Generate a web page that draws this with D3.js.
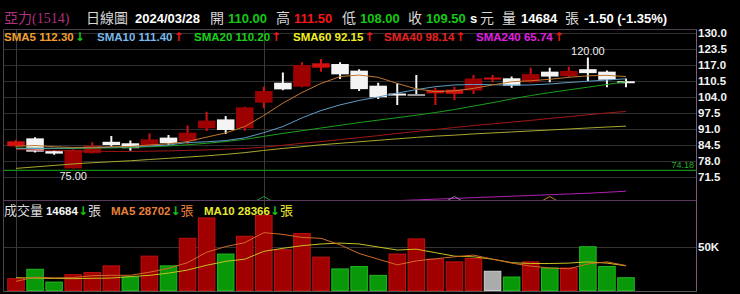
<!DOCTYPE html>
<html>
<head>
<meta charset="utf-8">
<script src="https://cdn.jsdelivr.net/npm/d3@7"></script>
<style>
  body { margin: 0; background: #000; }
  svg { display: block; }
  text { font-family: "Liberation Sans", Arial, "Noto Sans CJK TC", sans-serif; }
  .cjk { font-family: "Noto Sans CJK TC", sans-serif; }
  .arrow { font-family: "DejaVu Sans", sans-serif; font-weight: bold; font-size: 12px; }
</style>
</head>
<body>
<svg width="740" height="294"></svg>
<script>
// ---- data ----
var stockName = "亞力";
var stockCode = "1514";
var lastDate = "2024/03/28";
var prevClose = 84.0; // close before the first bar (only used for the first volume colour)

var open  = [84.0, 87.2, 82.0, 75.0, 81.2, 85.8, 85.2, 84.1, 87.5, 86.1, 91.3, 94.9, 91.3, 101.7, 109.8, 108.2, 115.9,
             117.4, 114.7, 108.6, 105.0, 104.8, 105.5, 105.3, 106.6, 110.7, 111.6, 110.0, 114.3, 112.5, 115.3, 114.3, 110.0];
var high  = [86.5, 87.6, 82.5, 82.8, 85.6, 88.2, 86.3, 89.2, 88.6, 92.4, 98.0, 96.3, 100.0, 108.2, 114.0, 118.1, 119.4,
             118.1, 115.3, 109.8, 109.6, 112.9, 107.8, 108.2, 112.9, 112.9, 112.3, 115.9, 115.9, 116.3, 120.0, 114.8, 111.5];
var low   = [83.5, 81.5, 80.5, 75.0, 81.0, 83.8, 82.2, 83.8, 84.5, 84.8, 90.2, 89.0, 90.3, 99.4, 106.7, 108.0, 114.3,
             111.3, 106.4, 103.2, 100.8, 104.8, 100.8, 102.8, 105.2, 110.0, 107.8, 109.8, 110.0, 112.0, 110.5, 108.0, 108.0];
var close = [86.0, 81.8, 81.0, 82.5, 84.2, 84.5, 83.2, 86.8, 85.2, 89.5, 94.4, 90.6, 99.8, 106.4, 107.1, 117.0, 117.7,
             113.2, 107.2, 103.9, 104.6, 104.8, 106.8, 107.0, 111.5, 111.5, 108.6, 113.3, 112.3, 114.6, 113.7, 111.0, 109.5];
var volume = [13600, 24400, 9700, 18200, 20600, 28300, 15500, 39500, 28300, 60000, 83400, 41900, 62400, 86400, 46900, 65500, 38400,
              24800, 27500, 17400, 41900, 59300, 36000, 32900, 36800, 22100, 15500, 32900, 25900, 25900, 50300, 27500, 14684];

var sma5   = [84.0, 84.3, 83.8, 83.5, 83.6, 83.8, 83.9, 84.5, 85.0, 85.9, 87.7, 89.4, 92.0, 96.5, 101.5, 105.8, 109.5,
              112.3, 112.9, 112.0, 109.5, 107.3, 106.2, 106.5, 107.5, 108.9, 110.2, 110.6, 111.2, 112.0, 112.6, 112.8, 112.30];
var sma10  = [83.0, 83.1, 83.2, 83.3, 83.4, 83.6, 83.8, 84.1, 84.5, 85.5, 85.8, 86.3, 87.4, 89.5, 92.0, 95.5, 98.5,
              100.8, 102.6, 104.0, 105.6, 107.0, 108.2, 108.9, 109.1, 109.0, 108.8, 108.9, 109.3, 109.9, 110.4, 110.9, 111.40];
var sma20  = [83.3, 83.2, 83.1, 83.1, 83.2, 83.3, 83.5, 83.8, 84.1, 84.6, 85.2, 85.9, 86.8, 88.0, 89.2, 90.3, 91.4,
              92.5, 93.6, 94.6, 95.6, 96.6, 97.7, 98.9, 100.3, 101.7, 103.2, 104.6, 105.8, 106.9, 108.0, 109.1, 110.20];
var sma60  = [75.0, 75.6, 76.2, 76.8, 77.3, 77.7, 78.1, 78.6, 79.1, 79.6, 80.1, 80.7, 81.4, 82.3, 83.1, 83.8, 84.6,
              85.2, 85.8, 86.4, 87.0, 87.6, 88.1, 88.5, 89.0, 89.4, 89.8, 90.2, 90.6, 91.0, 91.4, 91.8, 92.15];
var sma40  = [82.7, 82.5, 82.3, 82.1, 82.0, 81.9, 81.9, 82.0, 82.1, 82.3, 82.5, 82.8, 83.1, 83.6, 84.4, 85.2, 85.9,
              86.7, 87.5, 88.3, 89.2, 90.0, 90.8, 91.6, 92.4, 93.1, 93.8, 94.5, 95.3, 96.0, 96.8, 97.5, 98.14];
var sma240 = [55.9, 56.2, 56.5, 56.8, 57.1, 57.4, 57.7, 58.0, 58.3, 58.6, 58.9, 59.2, 59.5, 59.8, 60.1, 60.4, 60.7,
              61.0, 61.3, 61.6, 61.9, 62.2, 62.5, 62.8, 63.1, 63.4, 63.7, 64.0, 64.3, 64.6, 64.9, 65.3, 65.74];
var refLine = 74.18; // green horizontal reference

var volMa5  = [10500, 15300, 14500, 14800, 17000, 17500, 17500, 21000, 25500, 32000, 44000, 50500, 55000, 66500, 64500, 61000, 60000,
               52500, 42500, 36000, 29500, 34000, 36500, 38700, 40700, 36000, 31500, 28000, 25800, 25000, 30500, 32900, 28702];
var volMa10 = [14700, 14300, 13800, 13600, 14000, 14300, 16000, 17400, 20000, 23500, 29000, 33500, 36000, 45000, 48500, 51500, 53500,
               54500, 53500, 50000, 46500, 47500, 43500, 39500, 38700, 36000, 32000, 31000, 31000, 31500, 32900, 31500, 28366];

var priceTicks = [130.0, 123.5, 117.0, 110.5, 104.0, 97.5, 91.0, 84.5, 78.0, 71.5];
var volTicks = [50000];
var monthStarts = [0, 13];   // bars where a vertical separator is drawn
var markIdx = [13, 23, 28];  // small chevron markers at the bottom of the price panel

// ---- layout ----
var svg = d3.select("svg");
var W = 740, H = 294;
var left = 3.5, right = 696.5;
var pTop = 29.5, pBottom = 200.5, vBottom = 291.5;

svg.append("rect").attr("width", W).attr("height", H).attr("fill", "#000");

var x = d3.scalePoint().domain(d3.range(close.length)).range([16, 626]);
var bw = x.step() * 0.92;
var y = d3.scaleLinear().domain([71.5, 130]).range([177, 33]);
var yv = d3.scaleLinear().domain([0, 50000]).range([290.5, 247]);

var defs = svg.append("defs");
defs.append("clipPath").attr("id", "pclip").append("rect")
    .attr("x", left).attr("y", pTop).attr("width", right - left).attr("height", pBottom - pTop - 0.5);
defs.append("clipPath").attr("id", "vclip").append("rect")
    .attr("x", left).attr("y", pBottom).attr("width", right - left).attr("height", vBottom - pBottom);

var red = "#f01818", green = "#14c814";
function upDown(v, ref) { return v > ref ? red : (v < ref ? green : "#e0e0e0"); }

// ---- header ----
var last = close.length - 1;
var pc = close[last - 1];
var chg = close[last] - pc;
var head = svg.append("g").attr("font-size", 13);
function htext(px, str, color, cls, weight, size, family) {
  var t = head.append("text").attr("x", px).attr("y", 23).attr("fill", color).text(str);
  if (cls) t.attr("class", cls);
  if (weight) t.attr("font-weight", weight);
  if (size) t.attr("font-size", size);
  if (family) t.style("font-family", family);
  return t;
}
htext(4, stockName + "(" + stockCode + ")", "#b0307f", null, null, 14, "'Liberation Serif', 'Noto Sans CJK TC', serif");
htext(86, "日線圖", "#d8d8d8", "cjk", null, 14);
htext(135, lastDate, "#fff", null, "bold");
htext(210, "開", "#d8d8d8", "cjk", null, 14);
htext(228, open[last].toFixed(2), upDown(open[last], pc), null, "bold");
htext(276, "高", "#d8d8d8", "cjk", null, 14);
htext(294, high[last].toFixed(2), upDown(high[last], pc), null, "bold");
htext(342, "低", "#d8d8d8", "cjk", null, 14);
htext(360, low[last].toFixed(2), upDown(low[last], pc), null, "bold");
htext(408, "收", "#d8d8d8", "cjk", null, 14);
htext(426, close[last].toFixed(2), upDown(close[last], pc), null, "bold");
htext(470, "s", "#fff", null, "bold");
htext(480, "元", "#d8d8d8", "cjk", null, 14);
htext(502, "量", "#d8d8d8", "cjk", null, 14);
htext(521, String(volume[last]), "#fff", null, "bold");
htext(565, "張", "#d8d8d8", "cjk", null, 14);
htext(584, chg.toFixed(2) + " (" + (chg / pc * 100).toFixed(2) + "%)", "#fff", null, "bold");

// ---- grid ----
var grid = svg.append("g");
grid.selectAll(".hg").data(priceTicks).enter().append("line")
    .attr("x1", left).attr("x2", right)
    .attr("y1", function(d) { return Math.round(y(d)) + 0.5; })
    .attr("y2", function(d) { return Math.round(y(d)) + 0.5; })
    .attr("stroke", "#2e2e2e");
grid.selectAll(".vg").data(volTicks).enter().append("line")
    .attr("x1", left).attr("x2", right)
    .attr("y1", function(d) { return Math.round(yv(d)) + 0.5; })
    .attr("y2", function(d) { return Math.round(yv(d)) + 0.5; })
    .attr("stroke", "#333");
grid.selectAll(".mg").data(monthStarts).enter().append("line")
    .attr("x1", function(d) { return Math.round(x(d)) + 0.5; })
    .attr("x2", function(d) { return Math.round(x(d)) + 0.5; })
    .attr("y1", pTop).attr("y2", vBottom)
    .attr("stroke", "#3a3a3a");

// reference line + its label
svg.append("line").attr("x1", left).attr("x2", right)
    .attr("y1", y(refLine)).attr("y2", y(refLine))
    .attr("stroke", "#138a13").attr("stroke-width", 1.2);
svg.append("text").attr("x", 694).attr("y", y(refLine) - 2.5)
    .attr("text-anchor", "end").attr("font-size", 9).attr("fill", "#22b022")
    .text(refLine.toFixed(2));

// ---- candles ----
var pg = svg.append("g").attr("clip-path", "url(#pclip)");
var idx = d3.range(close.length);
function candleColor(i) {
  if (close[i] > open[i]) return "up";
  if (close[i] < open[i]) return "down";
  return "flat";
}
var cg = pg.selectAll(".candle").data(idx).enter().append("g");
cg.append("line")
    .attr("x1", function(i) { return x(i); })
    .attr("x2", function(i) { return x(i); })
    .attr("y1", function(i) { return y(high[i]); })
    .attr("y2", function(i) { return y(low[i]); })
    .attr("stroke-width", 2)
    .attr("stroke", function(i) { return candleColor(i) == "up" ? "#d21010" : "#f4f4f4"; });
cg.append("rect")
    .attr("x", function(i) { return x(i) - bw / 2; })
    .attr("width", bw)
    .attr("y", function(i) { return Math.min(y(open[i]), y(close[i])) - (Math.abs(y(open[i]) - y(close[i])) < 2 ? 1 : 0); })
    .attr("height", function(i) { return Math.max(2, Math.abs(y(open[i]) - y(close[i]))); })
    .attr("fill", function(i) {
      var c = candleColor(i);
      if (c == "flat") return "#9a9a9a";
      if (c == "up") return Math.abs(y(open[i]) - y(close[i])) < 5 ? "#d21010" : "#9c0000";
      return "#f4f4f4";
    });

// ---- moving averages ----
var lineP = d3.line().x(function(d, i) { return x(i); }).y(function(d) { return y(d); });
var smaLines = [
  [sma240, "#b020b0"], [sma60, "#a8a830"], [sma40, "#a01818"],
  [sma20, "#1aa01a"], [sma10, "#5f9cc4"], [sma5, "#c07830"]
];
smaLines.forEach(function(s) {
  pg.append("path").datum(s[0]).attr("d", lineP)
    .attr("fill", "none").attr("stroke", s[1]).attr("stroke-width", 1);
});

// extreme labels
var hiI = d3.maxIndex(high), loI = d3.minIndex(low);
svg.append("text").attr("x", x(hiI)).attr("y", y(high[hiI]) - 3).attr("text-anchor", "middle")
    .attr("font-size", 11).attr("fill", "#f0f0f0").text(high[hiI].toFixed(2));
svg.append("text").attr("x", x(loI)).attr("y", y(low[loI]) + 12).attr("text-anchor", "middle")
    .attr("font-size", 11).attr("fill", "#f0f0f0").text(low[loI].toFixed(2));

// chevrons
var markColors = ["#1e9a3a", "#9a80b8", "#c87a2a"];
svg.selectAll(".mark").data(markIdx).enter().append("path")
    .attr("d", function(i) { var cx = x(i); return "M" + (cx - 7) + ",200.5L" + cx + ",196.5L" + (cx + 7) + ",200.5"; })
    .attr("fill", "none").attr("stroke-width", 1)
    .attr("stroke", function(d, k) { return markColors[k]; });

// ---- legend (price) ----
var legend = [
  ["SMA5", sma5, "#f0a030", 4], ["SMA10", sma10, "#78b8e8", 97], ["SMA20", sma20, "#18d018", 194],
  ["SMA60", sma60, "#f0f020", 293], ["SMA40", sma40, "#e82020", 384], ["SMA240", sma240, "#e020e0", 476]
];
legend.forEach(function(l) {
  var arr = l[1], n = arr.length;
  var up = arr[n - 1] >= arr[n - 2];
  var t = svg.append("text").attr("x", l[3]).attr("y", 41).attr("font-size", 11.5).attr("font-weight", "bold");
  t.append("tspan").attr("fill", l[2]).text(l[0] + " " + arr[n - 1].toFixed(2));
  t.append("tspan").attr("class", "arrow").attr("fill", up ? red : green).attr("dx", 1).text(up ? "↑" : "↓");
});

// ---- volume ----
var vg = svg.append("g").attr("clip-path", "url(#vclip)");
function volColor(i) {
  var p = i == 0 ? prevClose : close[i - 1];
  if (close[i] > p) return ["#a00000", "#c01010"];
  if (close[i] < p) return ["#089808", "#20b820"];
  return ["#ababab", "#cfcfcf"];
}
vg.selectAll(".vbar").data(idx).enter().append("rect")
    .attr("x", function(i) { return x(i) - bw / 2 + 0.5; })
    .attr("width", bw - 1)
    .attr("y", function(i) { return yv(volume[i]); })
    .attr("height", function(i) { return yv(0) - yv(volume[i]); })
    .attr("fill", function(i) { return volColor(i)[0]; })
    .attr("stroke", function(i) { return volColor(i)[1]; })
    .attr("stroke-width", 1);
var lineV = d3.line().x(function(d, i) { return x(i); }).y(function(d) { return yv(d); });
vg.append("path").datum(volMa10).attr("d", lineV).attr("fill", "none").attr("stroke", "#c8c020").attr("stroke-width", 1);
vg.append("path").datum(volMa5).attr("d", lineV).attr("fill", "none").attr("stroke", "#d06a28").attr("stroke-width", 1);

// volume legend
function arrowOf(a) { return a[a.length - 1] >= a[a.length - 2] ? "↑" : "↓"; }
function arrowCol(a) { return a[a.length - 1] >= a[a.length - 2] ? red : green; }
var vl = svg.append("text").attr("x", 4).attr("y", 215).attr("font-size", 11.5).attr("font-weight", "bold");
vl.append("tspan").attr("class", "cjk").attr("font-weight", "normal").attr("font-size", 13).attr("fill", "#dcdcdc").text("成交量 ");
vl.append("tspan").attr("fill", "#f4f4f4").text(volume[last]);
vl.append("tspan").attr("class", "arrow").attr("fill", arrowCol(volume)).text(arrowOf(volume));
vl.append("tspan").attr("class", "cjk").attr("font-weight", "normal").attr("font-size", 13).attr("fill", "#dcdcdc").text("張");
var vl2 = svg.append("text").attr("x", 111).attr("y", 215).attr("font-size", 11.5).attr("font-weight", "bold");
vl2.append("tspan").attr("fill", "#e8803a").text("MA5 " + volMa5[last]);
vl2.append("tspan").attr("class", "arrow").attr("fill", arrowCol(volMa5)).text(arrowOf(volMa5));
vl2.append("tspan").attr("class", "cjk").attr("font-weight", "normal").attr("font-size", 13).attr("fill", "#e8803a").text("張");
var vl3 = svg.append("text").attr("x", 204).attr("y", 215).attr("font-size", 11.5).attr("font-weight", "bold");
vl3.append("tspan").attr("fill", "#e8e830").text("MA10 " + volMa10[last]);
vl3.append("tspan").attr("class", "arrow").attr("fill", arrowCol(volMa10)).text(arrowOf(volMa10));
vl3.append("tspan").attr("class", "cjk").attr("font-weight", "normal").attr("font-size", 13).attr("fill", "#e8e830").text("張");

// ---- frame ----
var frame = svg.append("g").attr("fill", "none");
frame.append("line").attr("x1", left).attr("x2", left).attr("y1", pTop).attr("y2", vBottom).attr("stroke", "#4e4050");
frame.append("line").attr("x1", left).attr("x2", right).attr("y1", pTop).attr("y2", pTop).attr("stroke", "#4e4050");
frame.append("line").attr("x1", left).attr("x2", right).attr("y1", pBottom).attr("y2", pBottom).attr("stroke", "#5a3a5a");
frame.append("line").attr("x1", left).attr("x2", right).attr("y1", vBottom).attr("y2", vBottom).attr("stroke", "#555");
frame.append("line").attr("x1", right).attr("x2", right).attr("y1", pTop).attr("y2", vBottom).attr("stroke", "#7a5a78");

// ---- right axes ----
var axP = svg.append("g").attr("transform", "translate(" + right + ",0)")
    .call(d3.axisRight(y).tickValues(priceTicks).tickFormat(d3.format(".1f")).tickSize(0).tickPadding(1.5));
var axV = svg.append("g").attr("transform", "translate(" + right + ",0)")
    .call(d3.axisRight(yv).tickValues(volTicks).tickFormat(function(d) { return d / 1000 + "K"; }).tickSize(0).tickPadding(1.5));
[axP, axV].forEach(function(a) {
  a.select(".domain").remove();
  a.selectAll("text").attr("fill", "#f4f4f4").attr("font-size", 11.5).attr("font-weight", "bold")
    .style("font-family", "'Liberation Sans', Arial, sans-serif");
});
</script>
</body>
</html>
